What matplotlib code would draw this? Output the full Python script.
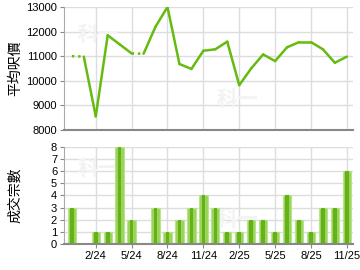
import matplotlib
matplotlib.use("Agg")
import matplotlib.pyplot as plt

# 月份 12/23 .. 11/25
months = ["12/23", "1/24", "2/24", "3/24", "4/24", "5/24", "6/24", "7/24",
          "8/24", "9/24", "10/24", "11/24", "12/24", "1/25", "2/25", "3/25",
          "4/25", "5/25", "6/25", "7/25", "8/25", "9/25", "10/25", "11/25"]
avg_price = [11000, 10980, 8550, 11850, 11480, 11110, 11100, 12200,
             13000, 10680, 10480, 11220, 11280, 11590, 9820, 10500,
             11070, 10800, 11360, 11570, 11570, 11280, 10730, 10980]
deals = [3, 0, 1, 1, 8, 2, 0, 3, 1, 2, 3, 4, 3, 1, 1, 2, 2, 1, 4, 2, 1, 3, 3, 6]
# 虛線段 (沒有成交的月份)
dotted_segments = [(0, 1), (5, 6)]
tick_labels = ["2/24", "5/24", "8/24", "11/24", "2/25", "5/25", "8/25", "11/25"]

plt.rcParams["font.family"] = ["Liberation Sans", "Noto Sans CJK TC", "DejaVu Sans"]
cjk = ["Noto Sans CJK TC", "DejaVu Sans"]

line_color = "#66bb11"
grid_color = "#dddddd"
tick_pos = [months.index(m) for m in tick_labels]
x = list(range(len(months)))

fig = plt.figure(figsize=(3.6, 2.7), dpi=100)
ax1 = fig.add_axes([0.178, 0.519, 0.802, 0.455])
ax2 = fig.add_axes([0.178, 0.096, 0.802, 0.36])

for ax in (ax1, ax2):
    ax.set_xlim(-0.65, 23.5)
    ax.set_xticks(tick_pos)
    ax.grid(True, color=grid_color, linewidth=1)
    ax.set_axisbelow(True)
    for s in ("top", "right"):
        ax.spines[s].set_visible(False)
    ax.spines["left"].set_color("#aaaaaa")
    ax.spines["bottom"].set_color("#888888")
    ax.spines["bottom"].set_linewidth(1.5)
    ax.tick_params(labelsize=8, length=3, color="#888888", pad=2)
    ax.yaxis.set_label_coords(-0.145, 0.5)
    # 水印 (放在圖形下面)
    ax.text(0.12, 0.78, "科一", transform=ax.transAxes, fontsize=15,
            color="#f3f3f3", family=cjk, fontweight="bold",
            ha="center", va="center", zorder=0.6)
    ax.text(0.6, 0.25, "科一", transform=ax.transAxes, fontsize=15,
            color="#f3f3f3", family=cjk, fontweight="bold",
            ha="center", va="center", zorder=0.6)

# 上圖: 平均呎價
ax1.set_ylim(8000, 13000)
ax1.set_yticks(range(8000, 13001, 1000))
ax1.set_xticklabels([])
ax1.tick_params(axis="x", length=0)
for i in range(len(x) - 1):
    style = (0, (1, 1.5)) if (i, i + 1) in dotted_segments else "-"
    ax1.plot(x[i:i + 2], avg_price[i:i + 2], color=line_color, linewidth=1.8,
             linestyle=style, solid_capstyle="round", zorder=2)
ax1.set_ylabel("平均呎價", family=cjk, fontsize=10)

# 下圖: 成交宗數
ax2.set_ylim(0, 8)
ax2.set_yticks(range(0, 9))
ax2.set_xticklabels(tick_labels)
ax2.bar(x, deals, width=0.7, color="#9ad45a", edgecolor="#b8e48c",
        linewidth=0.8, zorder=2)
ax2.bar(x, deals, width=0.3, color="#66b01a", linewidth=0, zorder=2)
ax2.set_ylabel("成交宗數", family=cjk, fontsize=10)

fig.savefig("out.png", dpi=100)
